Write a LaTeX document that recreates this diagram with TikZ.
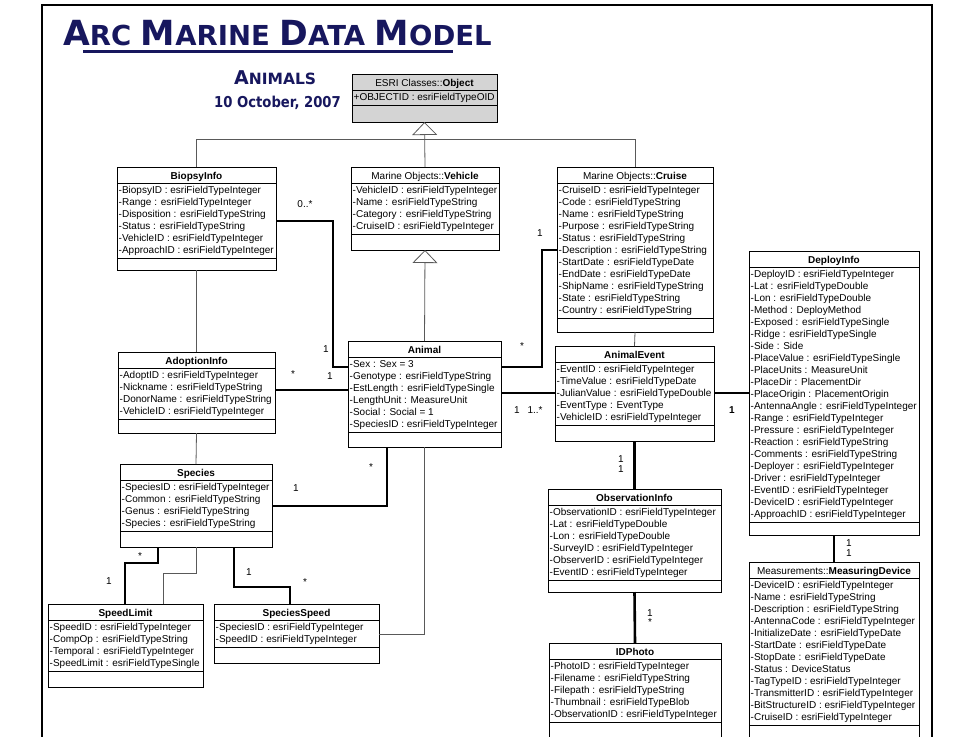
\documentclass[tikz,border=0pt]{standalone}
\usepackage{fontspec}
\usepackage{graphicx}
\setmainfont{Liberation Sans}
\newfontfamily\titlefont{DejaVu Sans}
\usetikzlibrary{arrows.meta}
\definecolor{navy}{RGB}{23,23,94}
\definecolor{objgray}{RGB}{212,212,212}
\tikzset{
 classbox/.style={draw=black, line width=0.8pt, inner sep=0pt, outer sep=0pt, anchor=north west},
 sepline/.style={draw=black, line width=0.8pt},
 ctitle/.style={font=\fontsize{10}{12}\selectfont, inner sep=0pt, anchor=base},
 cattr/.style={font=\fontsize{10}{12}\selectfont, inner sep=0pt, anchor=north west, align=left},
 gen/.style={draw=black!65, line width=0.8pt},
 assoc/.style={draw=black, line width=2.6pt},
 mult/.style={font=\fontsize{10}{12}\selectfont, inner sep=0pt},
 inh/.style={-{Triangle[open, width=25pt, length=13pt]}},
}
\newcommand\firstrow{\rule{0pt}{9pt}}
% [style]{name}{x1}{y1}{x2}{y2}{nrows}{title}{attrs}
\newcommand\umlclass[9][]{%
 \node[classbox,#1, minimum width={(#5-#3)*1pt}, minimum height={(#6-#4)*1pt}] (#2) at (#3,#4) {};
 \draw[sepline] (#3,#4+16) -- (#5,#4+16);
 \draw[sepline] (#3,{#4+16+12*#7+3}) -- (#5,{#4+16+12*#7+3});
 \node[ctitle] at ({(#3+#5)/2},#4+12) {#8};
 \node[cattr] at (#3+1.5,#4+17.5) {\firstrow#9};
}
\newcommand\bigc[1]{{\fontsize{34.6}{34.6}\selectfont #1}}
\newcommand\smc[1]{{\fontsize{27.5}{27.5}\selectfont #1}}
\begin{document}
\begin{tikzpicture}[x=1pt,y=-1pt]
\useasboundingbox (0,0) rectangle (973,736);
\clip (0,0) rectangle (973,736);
% frame
\draw[line width=1.2pt] (42,740) -- (42,5) -- (932,5) -- (932,740);
% titles
\node[anchor=base west, inner sep=0pt, text=navy] (title) at (63,45)
 {\titlefont\bfseries\fontsize{27.5}{27.5}\selectfont \bigc{A}\smc{RC} \bigc{M}\smc{ARINE} \bigc{D}\smc{ATA} \bigc{M}\smc{ODEL}};
\draw[navy, line width=3pt] (83,51.5) -- (453,51.5);
\node[anchor=base west, inner sep=0pt, text=navy] (sub) at (234,84)
 {\titlefont\bfseries {\fontsize{19}{19}\selectfont A}{\fontsize{15.5}{15.5}\selectfont NIMALS}};
\node[anchor=base, inner sep=0pt, text=navy] (date) at (277.5,107)
 {\scalebox{0.88}[1]{\titlefont\bfseries\fontsize{15}{15}\selectfont 10 October, 2007}};
% classes
\umlclass[fill=objgray]{obj}{352}{74}{497}{122}{1}{ESRI Classes::\textbf{Object}}{+OBJECTID : esriFieldTypeOID}
\umlclass{veh}{351}{167}{499}{250}{4}{Marine Objects::\textbf{Vehicle}}{-VehicleID : esriFieldTypeInteger\\-Name : esriFieldTypeString\\-Category : esriFieldTypeString\\-CruiseID : esriFieldTypeInteger}
\umlclass{bio}{117}{167}{276}{270}{6}{\textbf{BiopsyInfo}}{-BiopsyID : esriFieldTypeInteger\\-Range : esriFieldTypeInteger\\-Disposition : esriFieldTypeString\\-Status : esriFieldTypeString\\-VehicleID : esriFieldTypeInteger\\-ApproachID : esriFieldTypeInteger}
\umlclass{cru}{557}{167}{713}{332}{11}{Marine Objects::\textbf{Cruise}}{-CruiseID : esriFieldTypeInteger\\-Code : esriFieldTypeString\\-Name : esriFieldTypeString\\-Purpose : esriFieldTypeString\\-Status : esriFieldTypeString\\-Description : esriFieldTypeString\\-StartDate : esriFieldTypeDate\\-EndDate : esriFieldTypeDate\\-ShipName : esriFieldTypeString\\-State : esriFieldTypeString\\-Country : esriFieldTypeString}
\umlclass{dep}{749}{251}{919}{535}{21}{\textbf{DeployInfo}}{-DeployID : esriFieldTypeInteger\\-Lat : esriFieldTypeDouble\\-Lon : esriFieldTypeDouble\\-Method : DeployMethod\\-Exposed : esriFieldTypeSingle\\-Ridge : esriFieldTypeSingle\\-Side : Side\\-PlaceValue : esriFieldTypeSingle\\-PlaceUnits : MeasureUnit\\-PlaceDir : PlacementDir\\-PlaceOrigin : PlacementOrigin\\-AntennaAngle : esriFieldTypeInteger\\-Range : esriFieldTypeInteger\\-Pressure : esriFieldTypeInteger\\-Reaction : esriFieldTypeString\\-Comments : esriFieldTypeString\\-Deployer : esriFieldTypeInteger\\-Driver : esriFieldTypeInteger\\-EventID : esriFieldTypeInteger\\-DeviceID : esriFieldTypeInteger\\-ApproachID : esriFieldTypeInteger}
\umlclass{adp}{118}{352}{275}{433}{4}{\textbf{AdoptionInfo}}{-AdoptID : esriFieldTypeInteger\\-Nickname : esriFieldTypeString\\-DonorName : esriFieldTypeString\\-VehicleID : esriFieldTypeInteger}
\umlclass{ani}{348}{341}{501}{447}{6}{\textbf{Animal}}{-Sex : Sex = 3\\-Genotype : esriFieldTypeString\\-EstLength : esriFieldTypeSingle\\-LengthUnit : MeasureUnit\\-Social : Social = 1\\-SpeciesID : esriFieldTypeInteger}
\umlclass{aev}{555}{346}{714}{441}{5}{\textbf{AnimalEvent}}{-EventID : esriFieldTypeInteger\\-TimeValue : esriFieldTypeDate\\-JulianValue : esriFieldTypeDouble\\-EventType : EventType\\-VehicleID : esriFieldTypeInteger}
\umlclass{obs}{548}{489}{721}{592}{6}{\textbf{ObservationInfo}}{-ObservationID : esriFieldTypeInteger\\-Lat : esriFieldTypeDouble\\-Lon : esriFieldTypeDouble\\-SurveyID : esriFieldTypeInteger\\-ObserverID : esriFieldTypeInteger\\-EventID : esriFieldTypeInteger}
\umlclass{idp}{549}{643}{721}{745}{5}{\textbf{IDPhoto}}{-PhotoID : esriFieldTypeInteger\\-Filename : esriFieldTypeString\\-Filepath : esriFieldTypeString\\-Thumbnail : esriFieldTypeBlob\\-ObservationID : esriFieldTypeInteger}
\umlclass{mdv}{749}{562}{919}{745}{12}{Measurements::\textbf{MeasuringDevice}}{-DeviceID : esriFieldTypeInteger\\-Name : esriFieldTypeString\\-Description : esriFieldTypeString\\-AntennaCode : esriFieldTypeInteger\\-InitializeDate : esriFieldTypeDate\\-StartDate : esriFieldTypeDate\\-StopDate : esriFieldTypeDate\\-Status : DeviceStatus\\-TagTypeID : esriFieldTypeInteger\\-TransmitterID : esriFieldTypeInteger\\-BitStructureID : esriFieldTypeInteger\\-CruiseID : esriFieldTypeInteger}
\umlclass{spc}{120}{464}{272}{547}{4}{\textbf{Species}}{-SpeciesID : esriFieldTypeInteger\\-Common : esriFieldTypeString\\-Genus : esriFieldTypeString\\-Species : esriFieldTypeString}
\umlclass{spl}{48}{604}{203}{687}{4}{\textbf{SpeedLimit}}{-SpeedID : esriFieldTypeInteger\\-CompOp : esriFieldTypeString\\-Temporal : esriFieldTypeInteger\\-SpeedLimit : esriFieldTypeSingle}
\umlclass{sps}{214}{604}{379}{663}{2}{\textbf{SpeciesSpeed}}{-SpeciesID : esriFieldTypeInteger\\-SpeedID : esriFieldTypeInteger}
% generalizations and thin links
\draw[gen, inh] (veh.north) -- (obj.south);
\draw[gen] (bio.north) -- (bio.north |- 0,139) -- (cru.north |- 0,139) -- (cru.north);
\draw[gen, inh] (ani.north) -- (veh.south);
\draw[gen] (bio.south) -- (adp.north);
\draw[gen] (adp.south) -- (spc.north);
\draw[gen] (cru.south) -- (aev.north);
\draw[gen] (spc.south) -- (spc.south |- 0,573) -- (163,573) -- (spl.north -| 163,0);
\draw[gen] (sps.east |- 0,634) -- (ani.south |- 0,634) -- (ani.south);
% associations
\draw[assoc] (bio.east |- 0,221) -- (333,221) -- (333,367) -- (ani.west |- 0,367);
\draw[assoc] (adp.east |- 0,390) -- (ani.west |- 0,390);
\draw[assoc] (ani.east |- 0,367) -- (542,367) -- (542,250) -- (cru.west |- 0,250);
\draw[assoc] (ani.east |- 0,393) -- (aev.west |- 0,393);
\draw[assoc] (aev.east |- 0,393) -- (dep.west |- 0,393);
\draw[assoc] (aev.south) -- (obs.north);
\draw[assoc] (obs.south) -- (idp.north);
\draw[assoc] (dep.south) -- (mdv.north);
\draw[assoc] (spc.east |- 0,506) -- (387,506) -- (ani.south -| 387,0);
\draw[assoc] (spc.south -| 158,0) -- (158,563) -- (125,563) -- (spl.north -| 125,0);
\draw[assoc] (spc.south -| 234,0) -- (234,587) -- (290,587) -- (sps.north -| 290,0);
% multiplicities
\node[mult] (m1) at (305,204) {0..*};
\node[mult] (m2) at (326,349) {1};
\node[mult] (m3) at (293,374) {*};
\node[mult] (m4) at (330,376) {1};
\node[mult] (m5) at (540,233) {1};
\node[mult] (m6) at (522,346) {*};
\node[mult] (m7) at (517,410) {1};
\node[mult] (m8) at (535,410) {1..*};
\node[mult, font=\fontsize{10}{12}\selectfont\bfseries] (m9) at (732,410) {1};
\node[mult] (m10) at (621,459) {1};
\node[mult] (m11) at (621,469) {1};
\node[mult] (m12) at (650,613) {1};
\node[mult] (m13) at (650,622) {*};
\node[mult] (m14) at (849,543) {1};
\node[mult] (m15) at (849,553) {1};
\node[mult] (m16) at (296,488) {1};
\node[mult] (m17) at (371,467) {*};
\node[mult] (m18) at (140,556) {*};
\node[mult] (m19) at (109,581) {1};
\node[mult] (m20) at (249,572) {1};
\node[mult] (m21) at (305,582) {*};
\end{tikzpicture}
\end{document}
